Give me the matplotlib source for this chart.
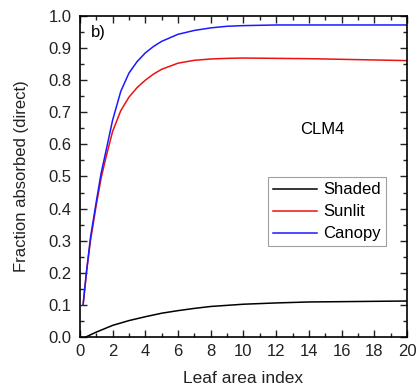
import numpy as np
import matplotlib
matplotlib.use("Agg")
import matplotlib.pyplot as plt
from matplotlib.ticker import MultipleLocator, FormatStrFormatter

plt.rcParams['font.family'] = ['Liberation Sans', 'DejaVu Sans']

# values
lai_canopy = [0.2, 0.4, 0.65, 1.0, 1.3, 1.6, 2.0, 2.5, 3.0, 3.5, 4.0, 4.5, 5.0, 6.0, 7.0, 8.0, 9.0, 10.0, 12.0, 14.0, 16.0, 18.0, 20.0]
canopy = [0.10, 0.20, 0.31, 0.42, 0.51, 0.58, 0.675, 0.765, 0.822, 0.858, 0.885, 0.905, 0.921, 0.943, 0.955, 0.963, 0.968, 0.970, 0.972, 0.972, 0.972, 0.972, 0.972]
sunlit = [0.10, 0.20, 0.30, 0.41, 0.495, 0.56, 0.64, 0.705, 0.747, 0.777, 0.80, 0.819, 0.834, 0.853, 0.862, 0.866, 0.868, 0.869, 0.868, 0.867, 0.865, 0.863, 0.861]

lai_shaded = [0.37, 1.0, 2.0, 3.0, 4.0, 5.0, 6.0, 7.0, 8.0, 10.0, 12.0, 14.0, 16.0, 18.0, 20.0]
shaded = [0.0, 0.015, 0.036, 0.051, 0.063, 0.074, 0.082, 0.089, 0.095, 0.102, 0.106, 0.109, 0.110, 0.111, 0.112]

fig = plt.figure(figsize=(4.18, 3.9), dpi=100)
ax = fig.add_axes([0.191, 0.136, 0.783, 0.823])

ax.plot(lai_shaded, shaded, color='black', lw=1.1, label='Shaded')
ax.plot(lai_canopy, sunlit, color='#ee1111', lw=1.1, label='Sunlit')
ax.plot(lai_canopy, canopy, color='#1a1aff', lw=1.1, label='Canopy')

ax.set_xlim(0, 20)
ax.set_ylim(0, 1.0)
ax.xaxis.set_major_locator(MultipleLocator(2))
ax.xaxis.set_minor_locator(MultipleLocator(1))
ax.yaxis.set_major_locator(MultipleLocator(0.1))
ax.yaxis.set_minor_locator(MultipleLocator(0.05))
ax.yaxis.set_major_formatter(FormatStrFormatter('%.1f'))
ax.tick_params(which='both', direction='in', top=True, right=True, labelsize=12, colors='#222222')
ax.tick_params(which='major', length=5, width=1)
ax.tick_params(which='minor', length=3, width=1)
ax.tick_params(axis='x', pad=5)
ax.tick_params(axis='y', pad=6)
for s in ax.spines.values():
    s.set_linewidth(1.2)

ax.set_xlabel('Leaf area index', fontsize=12.5, labelpad=9, color='#222222')
ax.set_ylabel('Fraction absorbed (direct)', fontsize=12, labelpad=14, color='#222222')

ax.text(0.035, 0.95, 'b)', transform=ax.transAxes, fontsize=12, va='center', ha='left')
ax.text(0.74, 0.645, 'CLM4', transform=ax.transAxes, fontsize=12, va='center', ha='center')

leg = ax.legend(loc='upper right', bbox_to_anchor=(0.935, 0.497), fontsize=12,
                fancybox=False, edgecolor='#888888', handlelength=2.6,
                borderpad=0.3, labelspacing=0.42, handletextpad=0.4, borderaxespad=0)
leg.get_frame().set_linewidth(0.8)

fig.savefig('out.png', dpi=100)
